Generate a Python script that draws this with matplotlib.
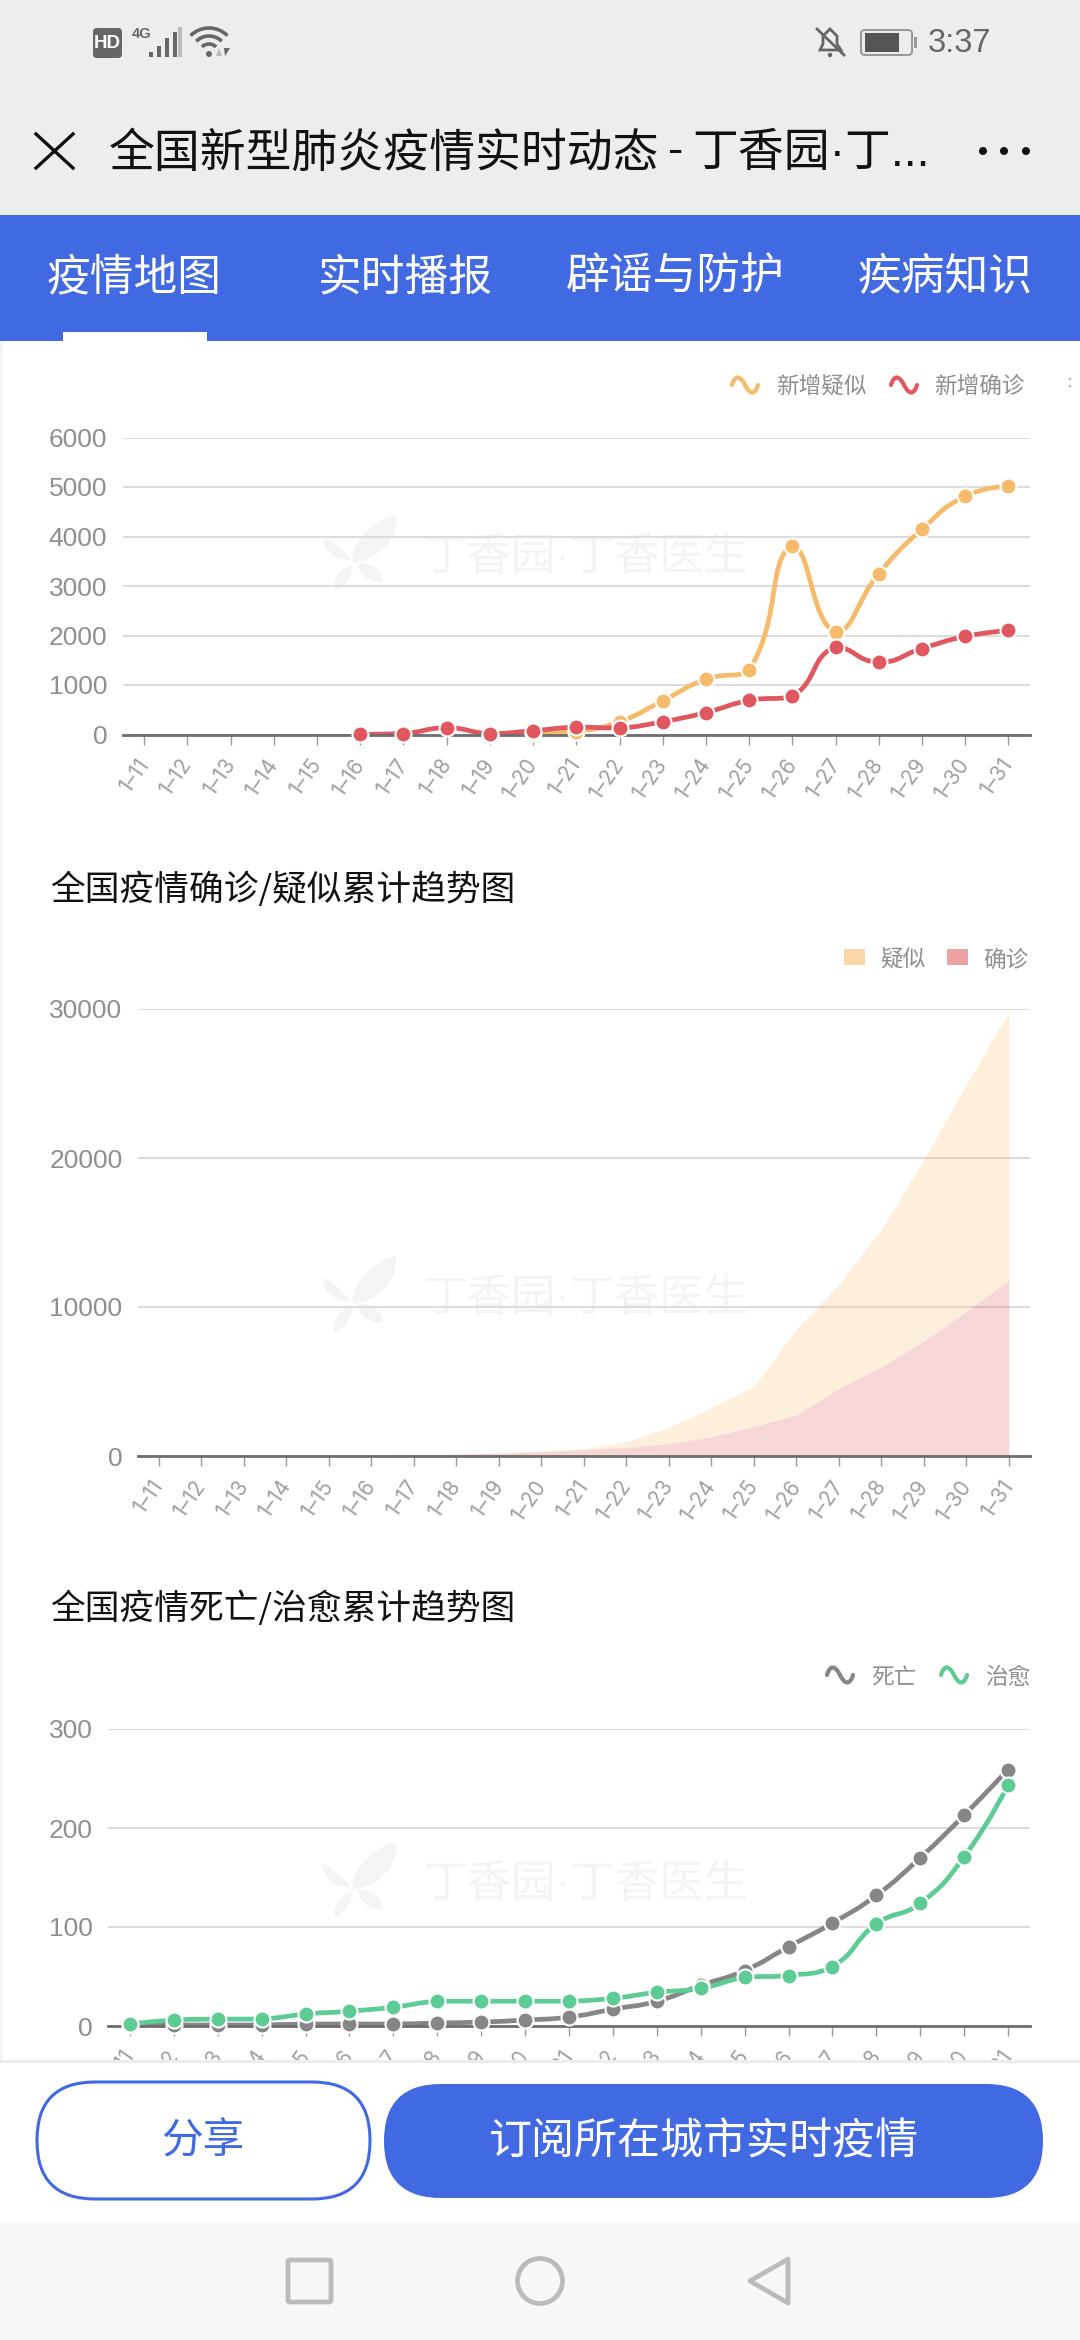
# Screenshot of the DXY epidemic page, three charts inside a phone UI
import numpy as np
import matplotlib
matplotlib.use("Agg")
import matplotlib.pyplot as plt
from matplotlib.path import Path
from matplotlib.patches import PathPatch, Rectangle, FancyBboxPatch, Circle, Polygon, Arc
from matplotlib.transforms import ScaledTranslation

plt.rcParams['font.family'] = ['Noto Sans CJK SC', 'DejaVu Sans']

nan = np.nan
days = ["1–11", "1–12", "1–13", "1–14", "1–15", "1–16", "1–17", "1–18", "1–19", "1–20", "1–21",
        "1–22", "1–23", "1–24", "1–25", "1–26", "1–27", "1–28", "1–29", "1–30", "1–31"]

# chart 1: new cases per day
new_suspected = [nan, nan, nan, nan, nan, nan, nan, nan, 0, 27, 60,
                 257, 680, 1118, 1309, 3806, 2077, 3248, 4148, 4812, 5019]
new_confirmed = [nan, nan, nan, nan, nan, 4, 17, 136, 19, 77, 149,
                 131, 259, 444, 688, 769, 1771, 1459, 1737, 1982, 2102]
ticks_new = [0, 1000, 2000, 3000, 4000, 5000, 6000]

# chart 2: cumulative, stacked
total_confirmed = [0, 0, 0, 0, 0, 45, 62, 121, 198, 291, 440,
                   571, 830, 1287, 1975, 2744, 4515, 5974, 7711, 9692, 11791]
total_suspected = [0, 0, 0, 0, 0, 0, 0, 0, 0, 54, 37,
                   393, 1072, 1965, 2684, 5794, 6973, 9239, 12167, 15238, 17988]
ticks_total = [0, 10000, 20000, 30000]

# chart 3: deaths and recovered
deaths = [1, 1, 1, 1, 2, 2, 2, 3, 4, 6, 9, 17, 25, 41, 56, 80, 104, 132, 170, 213, 259]
recovered = [2, 6, 7, 7, 12, 15, 19, 25, 25, 25, 25, 28, 34, 38, 49, 51, 60, 103, 124, 171, 243]
ticks_dead = [0, 100, 200, 300]

BLUE = '#4169E1'
YELLOW = '#F6BB6A'
RED = '#E0575F'
GRAY = '#868686'
GREEN = '#5CCB94'
TEXT = '#8F8F8F'
DIGITS = 'Liberation Sans'
MIXED = ['Liberation Sans', 'Noto Sans CJK SC']  # narrow dot in the page title and watermark

fig = plt.figure(figsize=(10.8, 23.4), dpi=100, facecolor='white')

# pixel coordinate layers, one below the charts and one above them
def pixel_layer(z):
    a = fig.add_axes([0, 0, 1, 1], zorder=z)
    a.set_xlim(0, 1080)
    a.set_ylim(2340, 0)
    a.axis('off')
    return a

ui = pixel_layer(0)
top = pixel_layer(10)

def chart_axes(left, right, ytop, ybottom, ymax, ticks):
    a = fig.add_axes([left / 1080, 1 - ybottom / 2340, (right - left) / 1080, (ybottom - ytop) / 2340], zorder=1)
    a.patch.set_alpha(0)
    a.set_xlim(-0.5, 20.5)
    a.set_ylim(0, ymax)
    for s in ['top', 'right', 'left']:
        a.spines[s].set_visible(False)
    a.spines['bottom'].set_color('#6E6E6E')
    a.spines['bottom'].set_linewidth(2.0)
    a.set_axisbelow(True)
    a.yaxis.grid(True, color='#DCDCDC', linewidth=1.5)
    a.set_yticks(ticks)
    a.set_yticklabels([str(t) for t in ticks], family=DIGITS, fontsize=19, color=TEXT)
    a.tick_params(axis='y', length=0, pad=11)
    a.set_xticks(range(len(days)))
    a.set_xticklabels(days, rotation=55, ha='right', va='top', rotation_mode='anchor',
                      family='Inter', fontsize=15, color='#A0A0A0')
    a.tick_params(axis='x', length=7, width=1, color='#9A9A9A', pad=8)
    # labels sit a little left of their tick in the original
    shift = ScaledTranslation(-8 / 100, 0, fig.dpi_scale_trans)
    for lab in a.get_xticklabels():
        lab.set_transform(lab.get_transform() + shift)
    return a

# same idea as the chart library's smooth lines: bezier handles, kept inside the neighbours
def smooth_line(a, values, color):
    x = np.arange(len(values), dtype=float)
    y = np.array(values, dtype=float)
    keep = ~np.isnan(y)
    x, y = x[keep], y[keep]
    box = a.get_window_extent()
    sx = box.width / (a.get_xlim()[1] - a.get_xlim()[0])
    sy = box.height / (a.get_ylim()[1] - a.get_ylim()[0])
    out_h = [(x[0], y[0])]
    in_h = [(x[0], y[0])]
    for i in range(1, len(x) - 1):
        d0 = np.hypot((x[i] - x[i - 1]) * sx, (y[i] - y[i - 1]) * sy)
        d1 = np.hypot((x[i + 1] - x[i]) * sx, (y[i + 1] - y[i]) * sy)
        r = d1 / (d0 + d1) if d0 + d1 > 0 else 0.5
        vx, vy = x[i + 1] - x[i - 1], y[i + 1] - y[i - 1]
        nx_y = np.clip(y[i] + vy * 0.5 * r, min(y[i], y[i + 1]), max(y[i], y[i + 1]))
        pv_y = np.clip(y[i] - vy * 0.5 * (1 - r), min(y[i], y[i - 1]), max(y[i], y[i - 1]))
        out_h.append((x[i] + vx * 0.5 * r, nx_y))
        in_h.append((x[i] - vx * 0.5 * (1 - r), pv_y))
    out_h.append((x[-1], y[-1]))
    in_h.append((x[-1], y[-1]))
    verts = [(x[0], y[0])]
    codes = [Path.MOVETO]
    for i in range(len(x) - 1):
        verts += [out_h[i], in_h[i + 1], (x[i + 1], y[i + 1])]
        codes += [Path.CURVE4] * 3
    a.add_patch(PathPatch(Path(verts, codes), fill=False, edgecolor=color, linewidth=3.4, capstyle='round'))
    a.plot(x, y, linestyle='none', marker='o', markersize=11.5, markerfacecolor=color,
           markeredgecolor='white', markeredgewidth=1.5, clip_on=False, zorder=4)

LEAF_CODES = [Path.MOVETO, Path.CURVE4, Path.CURVE4, Path.CURVE4, Path.CURVE4, Path.CURVE4, Path.CURVE4]

def leaf(pts):
    ui.add_patch(PathPatch(Path(pts, LEAF_CODES), facecolor='#F4F4F4', edgecolor='none'))

def watermark(yc):
    ui.text(585, yc + 3, "丁香园·丁香医生", family=MIXED, fontsize=32, color='#F4F4F4', ha='center', va='center')
    leaf([(353, yc + 8), (350, yc - 12), (372, yc - 34), (396, yc - 40),
          (398, yc - 20), (385, yc + 2), (353, yc + 8)])
    leaf([(351, yc + 5), (340, yc - 8), (330, yc - 16), (323, yc - 18),
          (324, yc - 2), (335, yc + 5), (351, yc + 5)])
    leaf([(358, yc + 8), (372, yc + 8), (382, yc + 15), (383, yc + 27),
          (368, yc + 27), (358, yc + 20), (358, yc + 8)])
    leaf([(352, yc + 10), (338, yc + 14), (332, yc + 26), (335, yc + 36),
          (346, yc + 30), (352, yc + 22), (352, yc + 10)])

def wave_icon(x0, yc, color):
    # little S shaped legend symbol
    p = Path([(x0, yc), (x0 + 3, yc - 10), (x0 + 8, yc - 10), (x0 + 13, yc),
              (x0 + 18, yc + 10), (x0 + 23, yc + 10), (x0 + 26, yc)],
             [Path.MOVETO, Path.CURVE4, Path.CURVE4, Path.CURVE4, Path.CURVE4, Path.CURVE4, Path.CURVE4])
    ui.add_patch(PathPatch(p, fill=False, edgecolor=color, linewidth=3.0, capstyle='round'))

def legend_text(x0, yc, s):
    ui.text(x0, yc + 3, s, fontsize=16.3, color=TEXT, ha='left', va='center')

ui.add_patch(Rectangle((0, 340), 3, 1720, facecolor='#F4F4F4', edgecolor='none'))

# chart 1
watermark(555)
ax1 = chart_axes(122.6, 1030, 437.5, 734.5, 6000, ticks_new)
smooth_line(ax1, new_suspected, YELLOW)
smooth_line(ax1, new_confirmed, RED)
wave_icon(732, 385, YELLOW)
legend_text(776, 383, "新增疑似")
wave_icon(891, 385, RED)
legend_text(934, 383, "新增确诊")
ui.add_patch(Circle((1070, 379), 1.3, facecolor='#BBBBBB', edgecolor='none'))
ui.add_patch(Circle((1070, 386), 1.3, facecolor='#BBBBBB', edgecolor='none'))

# chart 2
ui.text(50, 890, "全国疫情确诊/疑似累计趋势图", fontsize=25, color='#111111', ha='left', va='center')
watermark(1296)
ax2 = chart_axes(137.7, 1030, 1009, 1456, 30000, ticks_total)
conf = np.array(total_confirmed, dtype=float)
stack = conf + np.array(total_suspected, dtype=float)
x2 = np.arange(len(days))
ax2.fill_between(x2, conf, stack, color='#F6B962', alpha=0.22, linewidth=0)
ax2.fill_between(x2, 0, conf, color='#E0565F', alpha=0.24, linewidth=0)
ui.add_patch(Rectangle((844, 949), 21, 16, facecolor='#F9D5A7', edgecolor='none'))
legend_text(880, 957, "疑似")
ui.add_patch(Rectangle((947, 949), 21, 16, facecolor='#EDA3A3', edgecolor='none'))
legend_text(983, 957, "确诊")

# chart 3
ui.text(50, 1609, "全国疫情死亡/治愈累计趋势图", fontsize=25, color='#111111', ha='left', va='center')
watermark(1882)
ax3 = chart_axes(108, 1030, 1729, 2026, 300, ticks_dead)
smooth_line(ax3, deaths, GRAY)
smooth_line(ax3, recovered, GREEN)
wave_icon(827, 1675, GRAY)
legend_text(871, 1675, "死亡")
wave_icon(941, 1675, GREEN)
legend_text(985, 1675, "治愈")

# header and tabs
top.add_patch(Rectangle((0, 0), 1080, 215, facecolor='#EDEDED', edgecolor='none'))
top.add_patch(Rectangle((0, 215), 1080, 126, facecolor=BLUE, edgecolor='none'))
top.add_patch(Rectangle((63, 332), 144, 9, facecolor='white', edgecolor='none'))
for cx, name in [(134, "疫情地图"), (405, "实时播报"), (675, "辟谣与防护"), (945, "疾病知识")]:
    top.text(cx, 277, name, fontsize=31.5, color='white', ha='center', va='center')

top.plot([36, 73], [134, 168], color='#111111', linewidth=2.4)
top.plot([73, 36], [134, 168], color='#111111', linewidth=2.4)
# page title in pieces, the spaces around the dash are tighter than any installed font
top.text(109, 154, "全国新型肺炎疫情实时动态", fontsize=33, color='#111111', ha='left', va='center')
top.text(676, 152, "-", family=DIGITS, fontsize=33, color='#111111', ha='center', va='center')
top.text(692, 154, "丁香园·丁...", family=MIXED, fontsize=33, color='#111111', ha='left', va='center')
for cx in [983, 1004, 1026]:
    top.add_patch(Circle((cx, 151), 4, facecolor='#111111', edgecolor='none'))

# status bar
ICON = '#666666'
top.add_patch(FancyBboxPatch((93, 28), 29, 30, boxstyle='round,pad=0,rounding_size=4', facecolor=ICON, edgecolor='none'))
top.text(107.5, 43, "HD", family=DIGITS, fontsize=13.5, fontweight='bold', color='white', ha='center', va='center')
top.text(142, 34, "4G", family=DIGITS, fontsize=10.5, fontweight='bold', color=ICON, ha='center', va='center')
for bx, by, col in [(149, 52, ICON), (157, 46, ICON), (165, 38, ICON), (173, 32, ICON), (178, 27, '#BBBBBB')]:
    top.add_patch(Rectangle((bx, by), 4, 57 - by, facecolor=col, edgecolor='none'))
for r in [10, 18, 26]:
    top.add_patch(Arc((209, 54), 2 * r, 2 * r, theta1=225, theta2=315, edgecolor=ICON, linewidth=2.6))
top.add_patch(Circle((209, 54), 3, facecolor=ICON, edgecolor='none'))
top.add_patch(Polygon([(219, 48), (216, 56), (222, 56)], closed=True, facecolor='#BBBBBB', edgecolor='none'))
top.add_patch(Polygon([(224, 48), (230, 48), (225, 56)], closed=True, facecolor=ICON, edgecolor='none'))

top.add_patch(Polygon([(820, 50), (823, 44), (823, 36), (830, 29), (837, 36), (837, 44), (841, 50)],
                      closed=True, fill=False, edgecolor=ICON, linewidth=2))
top.plot([817, 844], [29, 55], color=ICON, linewidth=2)
top.add_patch(Circle((830, 55), 2.2, facecolor=ICON, edgecolor='none'))
top.add_patch(FancyBboxPatch((861, 30), 51, 25, boxstyle='round,pad=0,rounding_size=4', facecolor='none',
                             edgecolor='#999999', linewidth=1.5))
top.add_patch(Rectangle((865, 33), 34, 19, facecolor='#555555', edgecolor='none'))
top.add_patch(Rectangle((914, 37), 3, 11, facecolor='#999999', edgecolor='none'))
top.text(960, 44, "3:37", family=DIGITS, fontsize=23.5, color='#666666', ha='center', va='center')

# footer covers the bottom of chart 3
top.add_patch(Rectangle((0, 2060), 1080, 162, facecolor='white', edgecolor='none'))
top.add_patch(Rectangle((0, 2060), 1080, 3, facecolor='#EDEDED', edgecolor='none'))
top.add_patch(Rectangle((0, 2222), 1080, 118, facecolor='#F7F7F7', edgecolor='none'))
top.add_patch(FancyBboxPatch((37, 2082), 333, 117, boxstyle='round,pad=0,rounding_size=58', facecolor='white',
                             edgecolor=BLUE, linewidth=2.2))
top.add_patch(FancyBboxPatch((384, 2084), 659, 114, boxstyle='round,pad=0,rounding_size=57', facecolor=BLUE,
                             edgecolor='none'))
top.text(203, 2142, "分享", fontsize=30, color=BLUE, ha='center', va='center')
top.text(704, 2142, "订阅所在城市实时疫情", fontsize=31, color='white', ha='center', va='center')

# nav buttons
NAV = '#BBBBBB'
top.add_patch(FancyBboxPatch((288, 2260), 43, 42, boxstyle='round,pad=0,rounding_size=2', facecolor='none',
                             edgecolor=NAV, linewidth=3.4))
top.add_patch(Circle((540, 2281), 22.5, facecolor='none', edgecolor=NAV, linewidth=3.4))
top.add_patch(Polygon([(788, 2259), (788, 2303), (750, 2281)], closed=True, facecolor='none', edgecolor=NAV,
                      linewidth=3.4, joinstyle='round'))

fig.savefig("out.png", dpi=100)
